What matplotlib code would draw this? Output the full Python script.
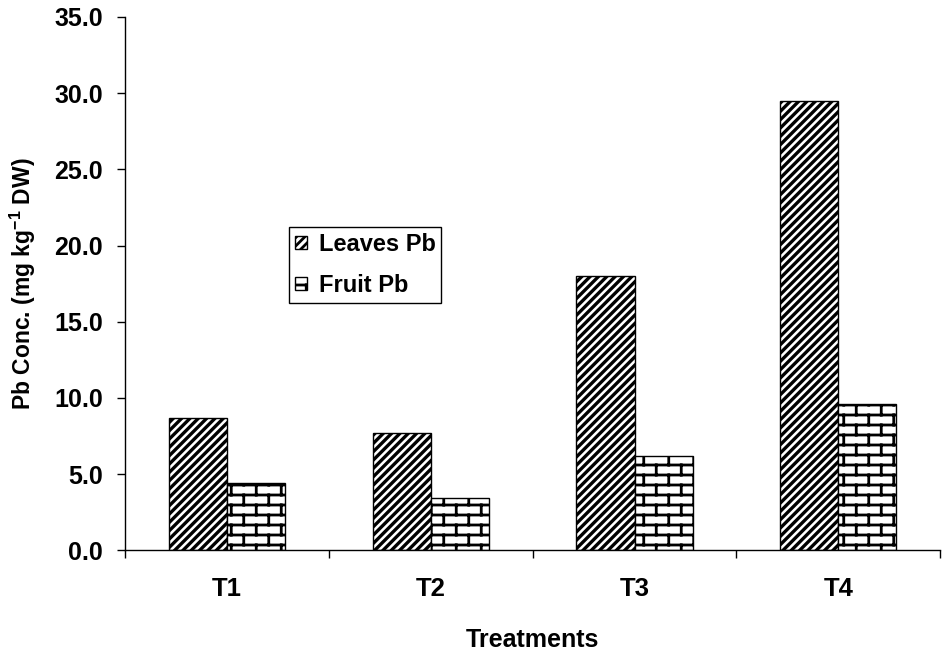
import warnings
import numpy as np
import matplotlib
matplotlib.use('Agg')
import matplotlib.pyplot as plt
import matplotlib.hatch as mhatch
from matplotlib.path import Path

warnings.filterwarnings('ignore')

treatments = ['T1', 'T2', 'T3', 'T4']
leaves_pb = [8.7, 7.7, 18.0, 29.5]
fruit_pb = [4.4, 3.4, 6.2, 9.6]


# brick hatch, registered as the letter 'b'
class BrickHatch(mhatch.HatchPatternBase):
    def __init__(self, hatch, density):
        self.rows = 10 if 'b' in hatch else 0
        self.cols = 4
        self.num_vertices = self.rows * 2 + (self.rows + 1) * self.cols * 2

    def set_vertices_and_codes(self, vertices, codes):
        if self.rows == 0:
            return
        step = 1.0 / self.rows
        segs = []
        for r in range(self.rows):
            y = (r + 0.5) * step
            segs.append(((0.0, y), (1.0, y)))
        for r in range(self.rows):
            y0 = (r + 0.5) * step
            y1 = y0 + step
            off = 0.25 if r % 2 == 0 else 0.75
            for c in range(self.cols):
                x = (c + off) / self.cols
                if y1 > 1.0:
                    segs.append(((x, y0), (x, 1.0)))
                    segs.append(((x, 0.0), (x, y1 - 1.0)))
                else:
                    segs.append(((x, y0), (x, y1)))
        pts = np.array([p for s in segs for p in s])
        vertices[:len(pts)] = pts
        codes[0::2] = Path.MOVETO
        codes[1::2] = Path.LINETO


mhatch._hatch_types.append(BrickHatch)

plt.rcParams['font.family'] = ['Liberation Sans', 'DejaVu Sans']
plt.rcParams['font.weight'] = 'bold'
plt.rcParams['mathtext.fontset'] = 'custom'
plt.rcParams['mathtext.rm'] = 'Liberation Sans:bold'
plt.rcParams['mathtext.bf'] = 'Liberation Sans:bold'
plt.rcParams['hatch.linewidth'] = 2.0

fig = plt.figure(figsize=(9.42, 6.52), dpi=100)
ax = fig.add_axes([0.133, 0.156, 0.865, 0.818])

x = np.arange(len(treatments))
w = 0.285
b1 = ax.bar(x - w / 2, leaves_pb, w, color='white', edgecolor='black',
            linewidth=1, hatch='////', label='Leaves Pb')
b2 = ax.bar(x + w / 2, fruit_pb, w, color='white', edgecolor='black',
            linewidth=1, hatch='b', label='Fruit Pb')
for p in b1:
    if hasattr(p, 'set_hatch_linewidth'):
        p.set_hatch_linewidth(2.4)
for p in b2:
    if hasattr(p, 'set_hatch_linewidth'):
        p.set_hatch_linewidth(2.0)

ax.set_xlim(-0.5, len(treatments) - 0.5)
ax.set_ylim(0, 35)
ax.set_yticks(np.arange(0, 36, 5))
ax.set_yticklabels(['%.1f' % v for v in np.arange(0, 36, 5)], fontsize=18, fontweight='bold')
ax.tick_params(axis='y', direction='out', length=6, width=1, pad=10)

ax.set_xticks(np.arange(-0.5, len(treatments), 1.0))
ax.set_xticklabels([])
ax.set_xticks(x, minor=True)
ax.set_xticklabels(treatments, minor=True, fontsize=18.5, fontweight='bold')
ax.tick_params(axis='x', which='major', direction='out', length=6, width=1)
ax.tick_params(axis='x', which='minor', length=0, pad=19)

ax.spines['top'].set_visible(False)
ax.spines['right'].set_visible(False)
ax.spines['left'].set_linewidth(1)
ax.spines['bottom'].set_linewidth(1)

ax.set_xlabel('Treatments', fontsize=18, fontweight='bold', labelpad=20)
ax.set_ylabel('Pb Conc. (mg kg$^{-1}$ DW)', fontsize=16.5, fontweight='bold', labelpad=12)

leg = ax.legend(loc='upper left', bbox_to_anchor=(0.201, 0.606), borderaxespad=0,
                fontsize=17, handlelength=0.5, handleheight=0.5, handletextpad=0.5,
                labelspacing=0.75, borderpad=0.25, fancybox=False,
                edgecolor='black', framealpha=1)
leg.get_frame().set_linewidth(1)

fig.savefig('out.png', dpi=100)
